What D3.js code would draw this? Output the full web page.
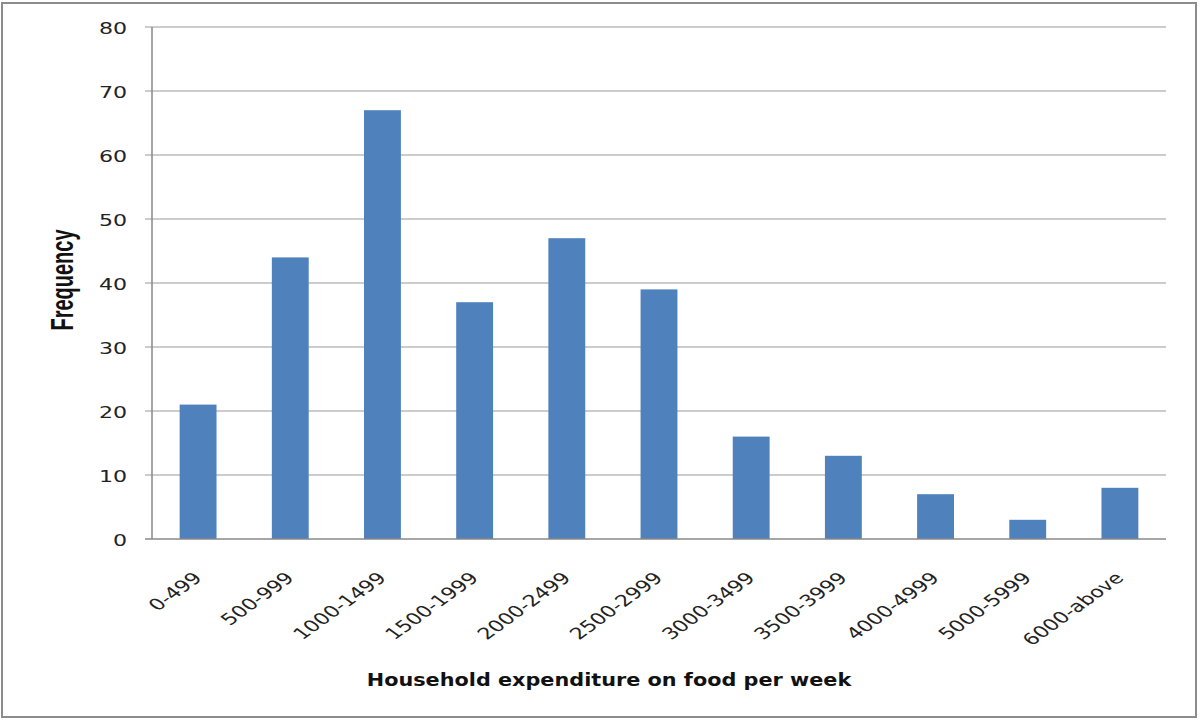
<!DOCTYPE html>
<html>
<head>
<meta charset="utf-8">
<script src="https://cdn.jsdelivr.net/npm/d3@7"></script>
<style>
  html, body { margin: 0; padding: 0; background: #fff; }
  svg { display: block; }
  .tick-label { font-family: "DejaVu Sans", Verdana, sans-serif; font-size: 16px; fill: #222; }
  .cat-label { font-family: "DejaVu Sans", Verdana, sans-serif; font-size: 16px; fill: #222; }
</style>
</head>
<body>
<svg id="viz" width="1200" height="722"></svg>
<script>
const categories = ["0-499", "500-999", "1000-1499", "1500-1999", "2000-2499", "2500-2999",
  "3000-3499", "3500-3999", "4000-4999", "5000-5999", "6000-above"];
const frequency = [21, 44, 67, 37, 47, 39, 16, 13, 7, 3, 8];
const yTicks = [0, 10, 20, 30, 40, 50, 60, 70, 80];

const svg = d3.select("#viz");
const W = 1200, H = 722;
const plot = { left: 152, right: 1166, top: 27, bottom: 539 };
const STRETCH = 1.38; // the original picture is widened horizontally

// outer frame
svg.append("rect")
  .attr("x", 2).attr("y", 3)
  .attr("width", W - 6).attr("height", H - 8)
  .attr("fill", "none").attr("stroke", "#8c8c8c").attr("stroke-width", 2);

const x = d3.scaleBand()
  .domain(categories)
  .range([plot.left, plot.right])
  .paddingInner(0.6).paddingOuter(0.3);

const y = d3.scaleLinear().domain([0, 80]).range([plot.bottom, plot.top]);

// gridlines + tick marks
svg.append("g").selectAll("line")
  .data(yTicks.filter(d => d > 0)).join("line")
  .attr("x1", plot.left - 7).attr("x2", plot.right)
  .attr("y1", d => y(d)).attr("y2", d => y(d))
  .attr("stroke", "#999").attr("stroke-width", 1.2);

// y labels
svg.append("g").selectAll("text")
  .data(yTicks).join("text")
  .attr("class", "tick-label")
  .attr("text-anchor", "end")
  .attr("transform", d => `translate(127,${y(d) + 6.5}) scale(${STRETCH},1)`)
  .text(d => d);

// bars
svg.append("g").selectAll("rect")
  .data(frequency).join("rect")
  .attr("x", (d, i) => x(categories[i]))
  .attr("width", x.bandwidth())
  .attr("y", d => y(d))
  .attr("height", d => y(0) - y(d))
  .attr("fill", "#4f81bd");

// axes
svg.append("line")
  .attr("x1", plot.left).attr("x2", plot.left)
  .attr("y1", plot.top).attr("y2", plot.bottom)
  .attr("stroke", "#888").attr("stroke-width", 1.5);
svg.append("line")
  .attr("x1", plot.left - 7).attr("x2", plot.right)
  .attr("y1", plot.bottom).attr("y2", plot.bottom)
  .attr("stroke", "#888").attr("stroke-width", 1.5);

// category labels
svg.append("g").selectAll("text")
  .data(categories).join("text")
  .attr("class", "cat-label")
  .attr("text-anchor", "end")
  .attr("transform", d => `translate(${x(d) + x.bandwidth() / 2 + 5},${plot.bottom + 40}) scale(${STRETCH},1) rotate(-45)`)
  .text(d => d);

// axis titles
svg.append("text")
  .attr("text-anchor", "middle")
  .attr("transform", "translate(609,686) scale(1.155,1)")
  .style("font-family", "'DejaVu Sans', Verdana, sans-serif")
  .style("font-weight", "bold").style("font-size", "18px").style("fill", "#111")
  .text("Household expenditure on food per week");

svg.append("text")
  .attr("transform", "translate(73,280) scale(1.6,1) rotate(-90)")
  .attr("text-anchor", "middle")
  .style("font-family", "'Liberation Sans Narrow', 'Liberation Sans', sans-serif")
  .style("font-weight", "bold").style("font-size", "20px").style("fill", "#111")
  .text("Frequency");
</script>
</body>
</html>
